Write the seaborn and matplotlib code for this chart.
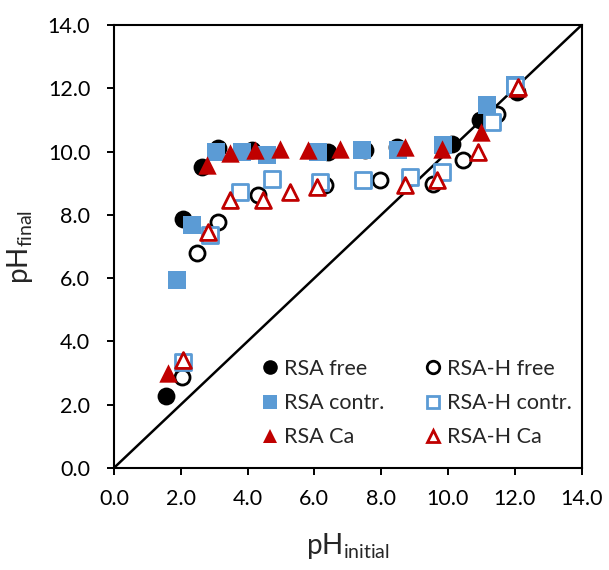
import matplotlib
matplotlib.use("Agg")
import matplotlib.pyplot as plt
import seaborn as sns
import pandas as pd
from matplotlib.lines import Line2D

# ---- data (pH initial, pH final) ----
rsa_free_x = [1.56, 2.07, 2.63, 3.11, 4.12, 6.41, 7.51, 8.46, 10.11, 10.96, 12.06]
rsa_free_y = [2.28, 7.88, 9.51, 10.10, 10.04, 9.99, 10.04, 10.15, 10.25, 11.00, 11.88]

rsah_free_x = [2.03, 2.48, 3.12, 4.32, 6.32, 7.96, 9.56, 10.46, 11.46, 12.05]
rsah_free_y = [2.88, 6.78, 7.78, 8.62, 8.94, 9.09, 8.99, 9.73, 11.20, 11.95]

rsa_contr_x = [1.88, 2.33, 3.07, 3.82, 4.57, 6.12, 7.42, 8.51, 9.86, 11.16, 12.00]
rsa_contr_y = [5.94, 7.67, 9.99, 9.99, 9.88, 9.99, 10.04, 10.04, 10.20, 11.46, 12.10]

rsah_contr_x = [2.06, 2.87, 3.77, 4.72, 6.17, 7.46, 8.86, 9.81, 11.31, 12.00]
rsah_contr_y = [3.36, 7.36, 8.72, 9.15, 9.04, 9.09, 9.20, 9.36, 10.94, 12.09]

rsa_ca_x = [1.63, 2.78, 3.47, 4.22, 4.97, 5.82, 6.77, 8.71, 9.81, 11.00, 12.07]
rsa_ca_y = [2.99, 9.57, 9.95, 10.04, 10.09, 10.04, 10.09, 10.15, 10.09, 10.62, 12.00]

rsah_ca_x = [2.06, 2.82, 3.47, 4.47, 5.27, 6.07, 8.71, 9.66, 10.91, 12.10]
rsah_ca_y = [3.41, 7.46, 8.46, 8.46, 8.72, 8.88, 8.94, 9.09, 9.99, 12.04]

tick_vals = [0, 2, 4, 6, 8, 10, 12, 14]
tick_labels = ["0.0", "2.0", "4.0", "6.0", "8.0", "10.0", "12.0", "14.0"]

sns.set_style("white")
plt.rcParams["font.family"] = ["Lato", "DejaVu Sans"]
plt.rcParams["mathtext.fontset"] = "custom"
plt.rcParams["mathtext.rm"] = "Lato"

BLUE = "#5B9BD5"
RED = "#C00000"

fig = plt.figure(figsize=(6.09, 5.70), dpi=100)
ax = fig.add_axes([0.187, 0.179, 0.768, 0.777])

# 1:1 line
ax.plot([0, 14], [0, 14], color="black", lw=1.8, zorder=1)

series = [
    ("RSA free", rsa_free_x, rsa_free_y, "o", "black", "black", 165),
    ("RSA-H free", rsah_free_x, rsah_free_y, "o", "white", "black", 118),
    ("RSA contr.", rsa_contr_x, rsa_contr_y, "s", BLUE, BLUE, 160),
    ("RSA-H contr.", rsah_contr_x, rsah_contr_y, "s", "white", BLUE, 118),
    ("RSA Ca", rsa_ca_x, rsa_ca_y, "^", RED, RED, 175),
    ("RSA-H Ca", rsah_ca_x, rsah_ca_y, "^", "white", RED, 130),
]

for i, (name, xs, ys, mk, fc, ec, sz) in enumerate(series):
    df = pd.DataFrame({"x": xs, "y": ys})
    lw = 0 if fc != "white" else 2.0
    sns.scatterplot(data=df, x="x", y="y", ax=ax, marker=mk, s=sz,
                    color=fc, edgecolor=ec, linewidth=lw, zorder=3 + i,
                    label=name, legend=False)

handles = []
for name, xs, ys, mk, fc, ec, sz in series:
    open_mk = fc == "white"
    handles.append(Line2D([], [], ls="none", marker=mk,
                          markersize=9.0 if open_mk else 10.5,
                          markerfacecolor=fc, markeredgecolor=ec,
                          markeredgewidth=2.0 if open_mk else 0, label=name))
order = [0, 2, 4, 1, 3, 5]
leg = ax.legend([handles[i] for i in order], [series[i][0] for i in order],
                ncol=2, frameon=False, loc="upper left",
                bbox_to_anchor=(0.315, 0.246), fontsize=15.5,
                handlelength=0.8, handletextpad=0.25, columnspacing=1.85,
                labelspacing=0.66, borderaxespad=0, borderpad=0)

ax.set_xlim(0, 14)
ax.set_ylim(0, 14)
ax.set_xticks(tick_vals)
ax.set_xticklabels(tick_labels)
ax.set_yticks(tick_vals)
ax.set_yticklabels(tick_labels)
ax.tick_params(axis="both", which="both", direction="out", length=5, width=1.4,
               colors="black", labelsize=15.5,
               bottom=True, left=True, top=False, right=False)
ax.tick_params(axis="x", pad=10)
ax.tick_params(axis="y", pad=12)
for sp in ax.spines.values():
    sp.set_color("black")
    sp.set_linewidth(1.5)

ax.set_xlabel(r"pH$_{\mathregular{initial}}$", fontsize=20, labelpad=16)
ax.set_ylabel(r"pH$_{\mathregular{final}}$", fontsize=20, labelpad=9)

fig.savefig("out.png", dpi=100)
